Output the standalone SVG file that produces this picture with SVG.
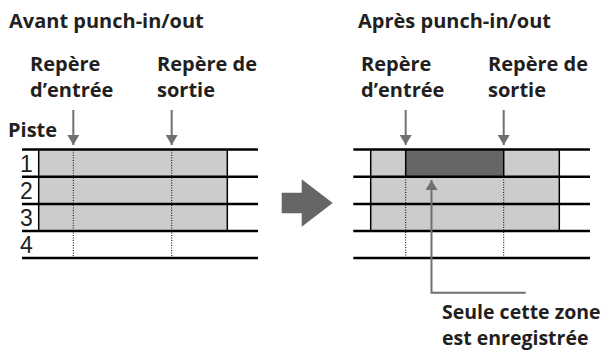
<svg xmlns="http://www.w3.org/2000/svg" width="611" height="350" viewBox="0 0 611 350">
<style>
.lbl{font-family:"Open Sans","DejaVu Sans",sans-serif;font-weight:700;font-size:20px;fill:#231f20}
.note{font-size:19.5px}
.num{font-family:"Liberation Sans",Arial,sans-serif;font-size:23px;fill:#231f20}
.trk{stroke:#000;stroke-width:2.5;fill:none}
.edge{stroke:#000;stroke-width:1.5;fill:none}
.dot{stroke:#000;stroke-width:1;stroke-dasharray:1 1.5;fill:none}
.pt{stroke:#707070;stroke-width:2;fill:none}
.clip{fill:#cccccc}
</style>
<defs>
<marker id="ah" viewBox="0 0 10 12" refX="10" refY="6" markerWidth="10" markerHeight="12" markerUnits="userSpaceOnUse" orient="auto">
<path d="M0,0 L10,6 L0,12 Z" fill="#707070"/>
</marker>
</defs>
<rect width="611" height="350" fill="#fff"/>

<g id="before">
<text class="lbl" x="9" y="28">Avant punch-in/out</text>
<text class="lbl" x="30" y="71">Repère</text>
<text class="lbl" x="30" y="97">d’entrée</text>
<text class="lbl" x="157" y="71">Repère de</text>
<text class="lbl" x="157" y="97">sortie</text>
<text class="lbl" x="8" y="137">Piste</text>
<rect class="clip" x="38.7" y="149.5" width="188.6" height="81.5"/>
<line class="edge" x1="38.7" y1="149.5" x2="38.7" y2="231"/>
<line class="edge" x1="227.3" y1="149.5" x2="227.3" y2="231"/>
<line class="dot" x1="73.3" y1="150" x2="73.3" y2="258"/>
<line class="dot" x1="171.7" y1="150" x2="171.7" y2="258"/>
<line class="trk" x1="22" y1="149.5" x2="258" y2="149.5"/>
<line class="trk" x1="22" y1="176.8" x2="258" y2="176.8"/>
<line class="trk" x1="22" y1="204" x2="258" y2="204"/>
<line class="trk" x1="22" y1="231" x2="258" y2="231"/>
<line class="trk" x1="22" y1="258" x2="258" y2="258"/>
<text class="num" x="20" y="171.5">1</text>
<text class="num" x="20" y="198.5">2</text>
<text class="num" x="20" y="226">3</text>
<text class="num" x="20" y="253.3">4</text>
</g>

<g id="transition">
<path d="M281.7,192.7 H301.7 V179.3 L332.7,203 L301.7,226.7 V213.3 H281.7 Z" fill="#666666"/>
</g>

<g id="after">
<text class="lbl" x="358" y="28">Après punch-in/out</text>
<text class="lbl" x="361" y="71">Repère</text>
<text class="lbl" x="361" y="97">d’entrée</text>
<text class="lbl" x="488" y="71">Repère de</text>
<text class="lbl" x="488" y="97">sortie</text>
<rect class="clip" x="370.7" y="149.5" width="188.6" height="81.5"/>
<rect x="405.7" y="149.5" width="98" height="27.3" fill="#666666"/>
<line class="edge" x1="370.7" y1="149.5" x2="370.7" y2="231"/>
<line class="edge" x1="559.3" y1="149.5" x2="559.3" y2="231"/>
<line class="edge" x1="405.7" y1="149.5" x2="405.7" y2="176.8"/>
<line class="edge" x1="503.7" y1="149.5" x2="503.7" y2="176.8"/>
<line class="dot" x1="405.7" y1="177" x2="405.7" y2="258"/>
<line class="dot" x1="503.7" y1="177" x2="503.7" y2="258"/>
<line class="trk" x1="353.3" y1="149.5" x2="590" y2="149.5"/>
<line class="trk" x1="353.3" y1="176.8" x2="590" y2="176.8"/>
<line class="trk" x1="353.3" y1="204" x2="590" y2="204"/>
<line class="trk" x1="353.3" y1="231" x2="590" y2="231"/>
<line class="trk" x1="353.3" y1="258" x2="590" y2="258"/>
<text class="lbl note" x="442" y="319">Seule cette zone</text>
<text class="lbl note" x="442" y="345">est enregistrée</text>
</g>

<g id="connectors">
<line class="pt" x1="73.3" y1="110" x2="73.3" y2="145" marker-end="url(#ah)"/>
<line class="pt" x1="171.7" y1="110" x2="171.7" y2="145" marker-end="url(#ah)"/>
<line class="pt" x1="405.7" y1="110" x2="405.7" y2="145" marker-end="url(#ah)"/>
<line class="pt" x1="503.7" y1="110" x2="503.7" y2="145" marker-end="url(#ah)"/>
<path class="pt" d="M525.7,292.7 H431.5 V180" marker-end="url(#ah)"/>
</g>
</svg>
